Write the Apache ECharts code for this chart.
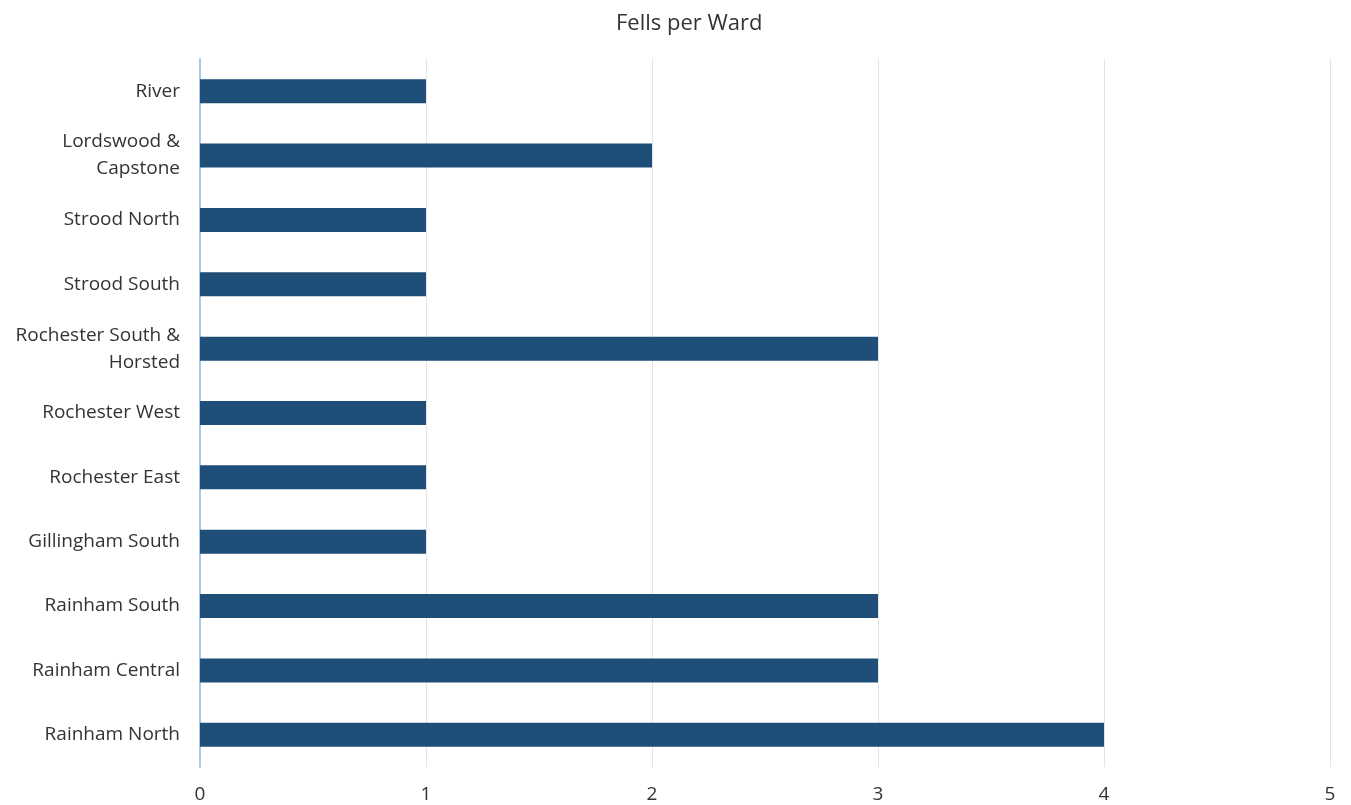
<!DOCTYPE html>
<html>
<head>
<meta charset="utf-8">
<script src="https://cdn.jsdelivr.net/npm/echarts@6/dist/echarts.min.js"></script>
<style>html,body{margin:0;padding:0;background:#fff}#c{width:1351px;height:805px}</style>
</head>
<body>
<div id="c"></div>
<script>
const titleText = "Fells per Ward";
const categories = ["River", "Lordswood &\nCapstone", "Strood North", "Strood South", "Rochester South &\nHorsted", "Rochester West", "Rochester East", "Gillingham South", "Rainham South", "Rainham Central", "Rainham North"];
const values = [1, 2, 1, 1, 3, 1, 1, 1, 3, 3, 4];
const xTicks = [0, 1, 2, 3, 4, 5];

const chart = echarts.init(document.getElementById('c'), null, {renderer: 'canvas'});
const font = "'Open Sans', Lato, sans-serif";
chart.setOption({
  animation: false,
  backgroundColor: '#ffffff',
  title: {
    text: titleText,
    left: 611, top: 8,
    textStyle: {fontFamily: font, fontSize: 22, fontWeight: 'normal', color: '#333333'}
  },
  grid: {left: 200, right: 21, top: 59, bottom: 38, containLabel: false},
  xAxis: {
    type: 'value', min: xTicks[0], max: xTicks[xTicks.length - 1], interval: 1,
    axisLine: {show: false}, axisTick: {show: false},
    splitLine: {show: true, lineStyle: {color: '#e3e3e3', width: 1}},
    axisLabel: {fontFamily: font, fontSize: 19, color: '#333333', margin: 18}
  },
  yAxis: {
    type: 'category', data: categories, inverse: true,
    axisLine: {show: true, lineStyle: {color: '#a8c8e8', width: 2}},
    axisTick: {show: false},
    axisLabel: {fontFamily: font, fontSize: 19, color: '#333333', margin: 20, lineHeight: 27, align: 'right'}
  },
  series: [{
    type: 'bar', data: values, barWidth: 24,
    itemStyle: {color: '#1f4e79'}
  }]
});
</script>
</body>
</html>
